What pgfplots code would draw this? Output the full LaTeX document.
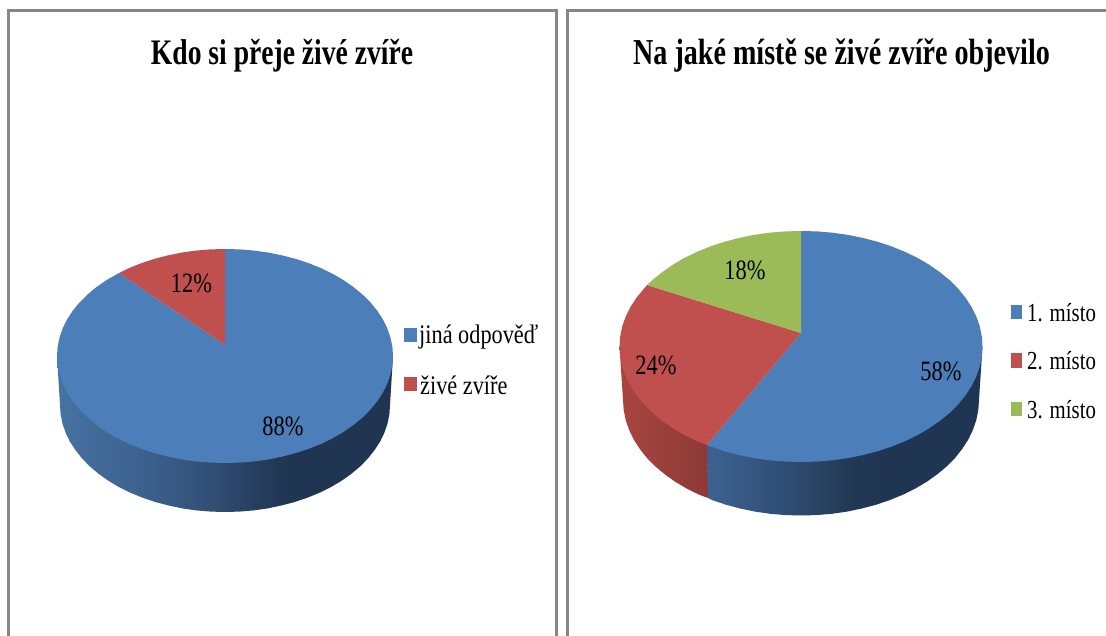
\documentclass[border=0pt]{standalone}
\usepackage{graphicx}
\usepackage{fontspec}
\setmainfont{Liberation Serif}
\usepackage{pgfplots}
\pgfplotsset{compat=1.18}
\definecolor{pblue}{HTML}{4C7EB9}
\definecolor{pred}{HTML}{C0504D}
\definecolor{pgreen}{HTML}{9BBB59}
\definecolor{frame}{HTML}{868686}
\pgfdeclarehorizontalshading{sideL}{100bp}{rgb(0bp)=(.275,.447,.639); rgb(25bp)=(.275,.447,.639); rgb(35.9bp)=(.243,.392,.569); rgb(46.3bp)=(.2,.322,.478); rgb(55.2bp)=(.149,.239,.361); rgb(59.7bp)=(.122,.208,.322); rgb(100bp)=(.122,.208,.322)}
\pgfdeclarehorizontalshading{sideB}{100bp}{rgb(0bp)=(.239,.384,.565); rgb(25bp)=(.239,.384,.565); rgb(38.2bp)=(.188,.31,.459); rgb(51bp)=(.133,.224,.333); rgb(56.4bp)=(.122,.208,.322); rgb(100bp)=(.122,.208,.322)}
\pgfdeclarehorizontalshading{sideR}{100bp}{rgb(0bp)=(.663,.271,.247); rgb(25bp)=(.663,.271,.247); rgb(75bp)=(.549,.227,.216); rgb(100bp)=(.549,.227,.216)}
\newcommand{\lab}[1]{\fontsize{22.4}{26}\selectfont\scalebox{1}[1.25]{#1}}
\newcommand{\leg}[1]{\fontsize{22.3}{24}\selectfont\scalebox{1}[1.2]{#1}}
\newcommand{\legr}[1]{\fontsize{20.8}{24}\selectfont\scalebox{1}[1.25]{#1}}
\newcommand{\ttl}[1]{\fontsize{27.6}{32}\selectfont\bfseries\scalebox{1}[1.3]{#1}}
\newcommand{\ttlr}[1]{\fontsize{28.1}{32}\selectfont\bfseries\scalebox{1}[1.3]{#1}}
\begin{document}
\begin{tikzpicture}
\begin{axis}[scale only axis, width=1106pt, height=636pt, xmin=0, xmax=1106, ymin=0, ymax=636, y dir=reverse, hide axis, clip=true]
% page background, which also fixes the picture's extent
\addplot[draw=none, fill=white] coordinates {(0,0)(1106,0)(1106,636)(0,636)} -- cycle;
% frames
\addplot[frame, line width=2.2pt] coordinates {(8.5,650)(8.5,10.5)(556.5,10.5)(556.5,650)};
\addplot[frame, line width=2.2pt] coordinates {(567.5,650)(567.5,10.5)(1120,10.5)};
% left pie: side
\addplot[draw=none, shade, shading=sideL] coordinates {(60,405)(60.6,414.3)(62.5,423.6)(65.6,432.7)(69.9,441.6)(75.5,450.2)(82.1,458.5)(89.8,466.4)(98.6,473.8)(108.3,480.7)(118.9,487)(130.4,492.7)(142.5,497.7)(155.3,502)(168.6,505.5)(182.3,508.4)(196.3,510.4)(210.6,511.6)(225,512)(239.4,511.6)(253.7,510.4)(267.7,508.4)(281.4,505.5)(294.7,502)(307.5,497.7)(319.6,492.7)(331.1,487)(341.7,480.7)(351.4,473.8)(360.2,466.4)(367.9,458.5)(374.5,450.2)(380.1,441.6)(384.4,432.7)(387.5,423.6)(389.4,414.3)(390,405)(393,356)(57,356)} -- cycle;
% left pie: 88 %
\addplot[draw=none, fill=pblue] coordinates {(225,345)(225,249)(239.6,249.4)(254.2,250.6)(268.5,252.6)(282.5,255.5)(296,259)(309,263.3)(321.4,268.3)(333,274)(343.8,280.3)(353.7,287.2)(362.6,294.6)(370.5,302.5)(377.3,310.8)(382.9,319.4)(387.3,328.3)(390.4,337.4)(392.4,346.7)(393,356)(392.4,365.3)(390.4,374.6)(387.3,383.7)(382.9,392.6)(377.3,401.2)(370.5,409.5)(362.6,417.4)(353.7,424.8)(343.8,431.7)(333,438)(321.4,443.7)(309,448.7)(296,453)(282.5,456.5)(268.5,459.4)(254.2,461.4)(239.6,462.6)(225,463)(210.4,462.6)(195.8,461.4)(181.5,459.4)(167.5,456.5)(154,453)(141,448.7)(128.6,443.7)(117,438)(106.2,431.7)(96.3,424.8)(87.4,417.4)(79.5,409.5)(72.7,401.2)(67.1,392.6)(62.7,383.7)(59.6,374.6)(57.6,365.3)(57,356)(57.6,346.7)(59.6,337.4)(62.7,328.3)(67.1,319.4)(72.7,310.8)(79.5,302.5)(87.4,294.6)(96.3,287.2)(106.2,280.3)(119,273)} -- cycle;
% left pie: 12 %
\addplot[draw=none, fill=pred] coordinates {(225,345)(119,273)(128.6,268.3)(141,263.3)(154,259)(167.5,255.5)(181.5,252.6)(195.8,250.6)(210.4,249.4)(225,249)} -- cycle;
% right pie: sides
\addplot[draw=none, shade, shading=sideB] coordinates {(708,498)(712,500)(725.8,504.7)(740.1,508.5)(754.9,511.6)(770.1,513.8)(785.5,515.1)(801,515.5)(816.5,515.1)(831.9,513.8)(847.1,511.6)(861.9,508.5)(876.2,504.7)(890,500)(903.1,494.6)(915.4,488.5)(926.9,481.7)(937.4,474.2)(946.8,466.3)(955.2,457.8)(962.3,448.8)(968.3,439.5)(972.9,429.9)(976.3,420.1)(978.3,410.1)(979,400)(982.5,346.5)(707,445)} -- cycle;
\addplot[draw=none, shade, shading=sideR] coordinates {(623,400)(623.7,410.1)(625.7,420.1)(629.1,429.9)(633.7,439.5)(639.7,448.8)(646.8,457.8)(655.2,466.3)(664.6,474.2)(675.1,481.7)(686.6,488.5)(698.9,494.6)(708,498)(707,445)(619.5,346.5)} -- cycle;
% right pie: 58 %
\addplot[draw=none, fill=pblue] coordinates {(801,333)(801,231)(816.8,231.4)(832.6,232.7)(848,234.9)(863.1,238)(877.7,241.8)(891.8,246.5)(905.1,251.9)(917.7,258)(929.3,264.8)(940,272.3)(949.7,280.2)(958.2,288.7)(965.5,297.7)(971.6,307)(976.3,316.6)(979.8,326.4)(981.8,336.4)(982.5,346.5)(981.8,356.6)(979.8,366.6)(976.3,376.4)(971.6,386)(965.5,395.3)(958.2,404.3)(949.7,412.8)(940,420.7)(929.3,428.2)(917.7,435)(905.1,441.1)(891.8,446.5)(877.7,451.2)(863.1,455)(848,458.1)(832.6,460.3)(816.8,461.6)(801,462)(785.2,461.6)(769.4,460.3)(754,458.1)(738.9,455)(724.3,451.2)(707,445)} -- cycle;
% right pie: 24 %
\addplot[draw=none, fill=pred] coordinates {(801,333)(707,445)(696.9,441.1)(684.3,435)(672.7,428.2)(662,420.7)(652.3,412.8)(643.8,404.3)(636.5,395.3)(630.4,386)(625.7,376.4)(622.2,366.6)(620.2,356.6)(619.5,346.5)(620.2,336.4)(622.2,326.4)(625.7,316.6)(630.4,307)(636.5,297.7)(647,285)} -- cycle;
% right pie: 18 %
\addplot[draw=none, fill=pgreen] coordinates {(801,333)(647,285)(652.3,280.2)(662,272.3)(672.7,264.8)(684.3,258)(696.9,251.9)(710.2,246.5)(724.3,241.8)(738.9,238)(754,234.9)(769.4,232.7)(785.2,231.4)(801,231)} -- cycle;
% legend squares
\addplot[draw=none, fill=pblue] coordinates {(404,328)(416.5,328)(416.5,342)(404,342)} -- cycle;
\addplot[draw=none, fill=pred] coordinates {(404,377)(416.5,377)(416.5,391)(404,391)} -- cycle;
\addplot[draw=none, fill=pblue] coordinates {(1011,305)(1022,305)(1022,319)(1011,319)} -- cycle;
\addplot[draw=none, fill=pred] coordinates {(1011,353)(1022,353)(1022,368)(1011,368)} -- cycle;
\addplot[draw=none, fill=pgreen] coordinates {(1011,402)(1022,402)(1022,416)(1011,416)} -- cycle;
% titles
\node at (axis cs:282,56) {\ttl{Kdo si přeje živé zvíře}};
\node at (axis cs:841.5,56) {\ttlr{Na jaké místě se živé zvíře objevilo}};
% data labels
\node at (axis cs:191.5,283) {\lab{12\%}};
\node at (axis cs:283,426) {\lab{88\%}};
\node at (axis cs:745,270) {\lab{18\%}};
\node at (axis cs:656,365) {\lab{24\%}};
\node at (axis cs:941,371) {\lab{58\%}};
% legend text
\node[anchor=west, inner sep=0pt] at (axis cs:419,337) {\leg{jiná odpověď}};
\node[anchor=west, inner sep=0pt] at (axis cs:420,385) {\leg{živé zvíře}};
\node[anchor=west, inner sep=0pt] at (axis cs:1027,313) {\legr{1. místo}};
\node[anchor=west, inner sep=0pt] at (axis cs:1027,361) {\legr{2. místo}};
\node[anchor=west, inner sep=0pt] at (axis cs:1027,410) {\legr{3. místo}};
\end{axis}
\end{tikzpicture}
\end{document}
